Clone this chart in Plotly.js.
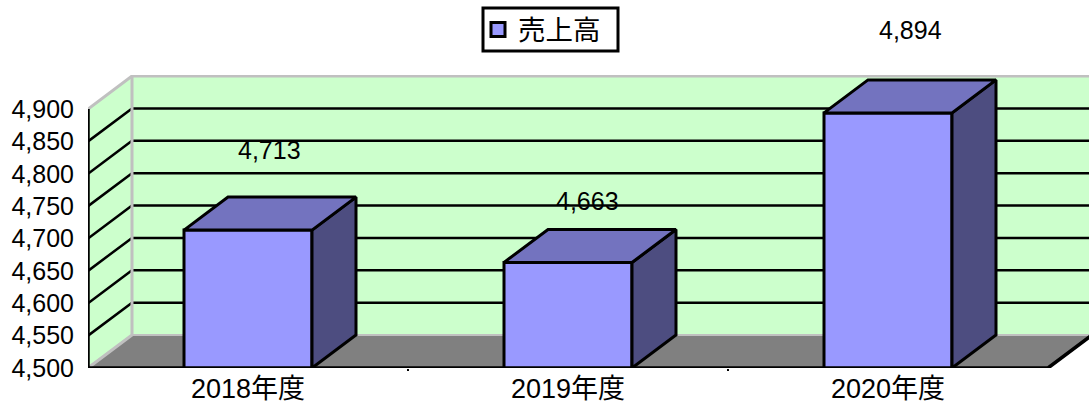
<!DOCTYPE html>
<html><head><meta charset="utf-8">
<script src="https://cdn.plot.ly/plotly-3.0.1.min.js"></script>
<style>html,body{margin:0;padding:0;background:#fff;overflow:hidden}</style>
</head><body><div id="chart" style="width:1089px;height:405px"></div>
<script>
const categories = ["2018年度", "2019年度", "2020年度"];
const seriesName = "売上高";
const sales = [4713, 4663, 4894];
const yTicks = [4500, 4550, 4600, 4650, 4700, 4750, 4800, 4850, 4900];
const labelShiftX = [21, 19, 22];
const labelShiftY = [80, 61, 83];

const FONT = '"Liberation Sans","Noto Sans CJK JP",sans-serif';
const L = 88, B = 37, T = 75, W = 1089, H = 405;
const pxPerCat = 320, pxPerVal = 259 / 400;
const dx = 44 / pxPerCat, dy = 33 / pxPerVal;
const xL = -0.5, xR = categories.length - 0.5;
const xMax = xL + (W - L) / pxPerCat;
const y0 = yTicks[0], yTop = yTicks[yTicks.length - 1];
const yMax = y0 + (H - B - T) / pxPerVal;
const hw = 0.2;

function poly(xs, ys, fill, line, lw, extra, ax) {
  return Object.assign({
    type: 'scatter', mode: line ? 'lines' : 'none', x: xs, y: ys,
    fill: fill ? 'toself' : 'none', fillcolor: fill || undefined,
    line: { color: line || 'rgba(0,0,0,0)', width: lw || 0 },
    hoverinfo: 'skip', showlegend: false, xaxis: ax ? 'x2' : 'x', yaxis: ax ? 'y2' : 'y'
  }, extra || {});
}
const noClip = { cliponaxis: false };
const traces = [];
// walls and floor
traces.push(poly([xL + dx, xMax, xMax, xL + dx, xL + dx], [y0 + dy, y0 + dy, yTop + dy, yTop + dy, y0 + dy], '#CCFFCC'));
traces.push(poly([xL, xL + dx, xL + dx, xL, xL], [y0, y0 + dy, yTop + dy, yTop, y0], '#CCFFCC'));
traces.push(poly([xL, xR, xR + dx, xL + dx, xL], [y0, y0, y0 + dy, y0 + dy, y0], '#808080'));
// gridlines on side and back walls
yTicks.slice(1, -1).forEach(v => traces.push(poly([xL, xL + dx, xMax], [v, v + dy, v + dy], null, '#000000', 2.5)));
// grey wall edges
traces.push(poly([xL, xL + dx, xMax], [yTop, yTop + dy, yTop + dy], null, '#C0C0C0', 3, noClip));
traces.push(poly([xL, xL + dx, xL + dx], [y0, y0 + dy, yTop + dy], null, '#C0C0C0', 3, noClip));
traces.push(poly([xL + dx, xMax], [y0 + dy, y0 + dy], null, '#C0C0C0', 2, noClip));
// front bars
traces.push({
  type: 'bar', x: categories.map((c, i) => i), y: sales, width: 2 * hw,
  marker: { color: '#9999FF', line: { color: '#000000', width: 3 } },
  hoverinfo: 'skip', xaxis: 'x2', yaxis: 'y2', showlegend: false
});
// bar depth faces
sales.forEach((v, i) => {
  const a = i - hw, b = i + hw;
  traces.push(poly([b, b + dx, b + dx, b, b], [v, v + dy, y0 + dy, y0, v], '#4D4D80', '#000000', 3, null, true));
  traces.push(poly([a, b, b + dx, a + dx, a], [v, v, v + dy, v + dy, v], '#7373BF', '#000000', 3, null, true));
});
// front axis lines and floor edge
traces.push(poly([xL, xL], [y0, yTop], null, '#000000', 3.5, noClip, true));
traces.push(poly([xL, xR, xR + dx], [y0, y0, y0 + dy], null, '#000000', 3.5, noClip, true));
// legend entry for the series
traces.push({
  type: 'scatter', mode: 'markers', name: seriesName, x: [null], y: [null], xaxis: 'x2', yaxis: 'y2',
  marker: { symbol: 'square', size: 14, color: '#9999FF', line: { color: '#000000', width: 3 } },
  hoverinfo: 'skip', showlegend: true
});

const layout = {
  width: W, height: H, margin: { l: L, r: 0, t: T, b: B, pad: 0 },
  paper_bgcolor: '#FFFFFF', plot_bgcolor: 'rgba(0,0,0,0)',
  font: { family: FONT, size: 25, color: '#000000' },
  showlegend: true,
  legend: {
    x: (478 - L) / (W - L), xanchor: 'left', y: (H - B - 5) / (H - B - T), yanchor: 'top',
    bgcolor: 'rgba(0,0,0,0)', borderwidth: 0, itemsizing: 'trace', font: { size: 27.5, family: FONT }
  },
  shapes: [{
    type: 'rect', xref: 'paper', yref: 'paper', layer: 'above',
    x0: (483 - L) / (W - L), x1: (618 - L) / (W - L),
    y0: (H - B - 51) / (H - B - T), y1: (H - B - 8) / (H - B - T),
    fillcolor: '#FFFFFF', line: { color: '#000000', width: 3 }
  }],
  xaxis: {
    range: [xL, xMax], tickmode: 'array', tickvals: categories.map((c, i) => i), ticktext: categories,
    showgrid: false, zeroline: false, showline: false, ticks: '', tickfont: { size: 27, family: FONT },
    ticklabelstandoff: 2,
    minor: { tickmode: 'array', tickvals: [0.5, 1.5], ticks: 'outside', ticklen: 2, tickwidth: 2, tickcolor: '#000000', showgrid: false }
  },
  yaxis: {
    range: [y0, yMax], tickmode: 'array', tickvals: yTicks, tickformat: ',d',
    showgrid: false, zeroline: false, showline: false, ticks: '', ticklabelstandoff: 13
  },
  xaxis2: { overlaying: 'x', range: [xL, xMax], visible: false, showgrid: false, zeroline: false },
  yaxis2: { overlaying: 'y', range: [y0, yMax], visible: false, showgrid: false, zeroline: false },
  annotations: sales.map((v, i) => ({
    xref: 'x2', yref: 'y2', x: i, y: v, xshift: labelShiftX[i], yshift: labelShiftY[i],
    text: v.toLocaleString('en-US'), showarrow: false, xanchor: 'center', yanchor: 'middle',
    font: { size: 25, family: FONT, color: '#000000' }
  }))
};
Plotly.newPlot('chart', traces, layout, { displayModeBar: false, staticPlot: true });
</script></body></html>
